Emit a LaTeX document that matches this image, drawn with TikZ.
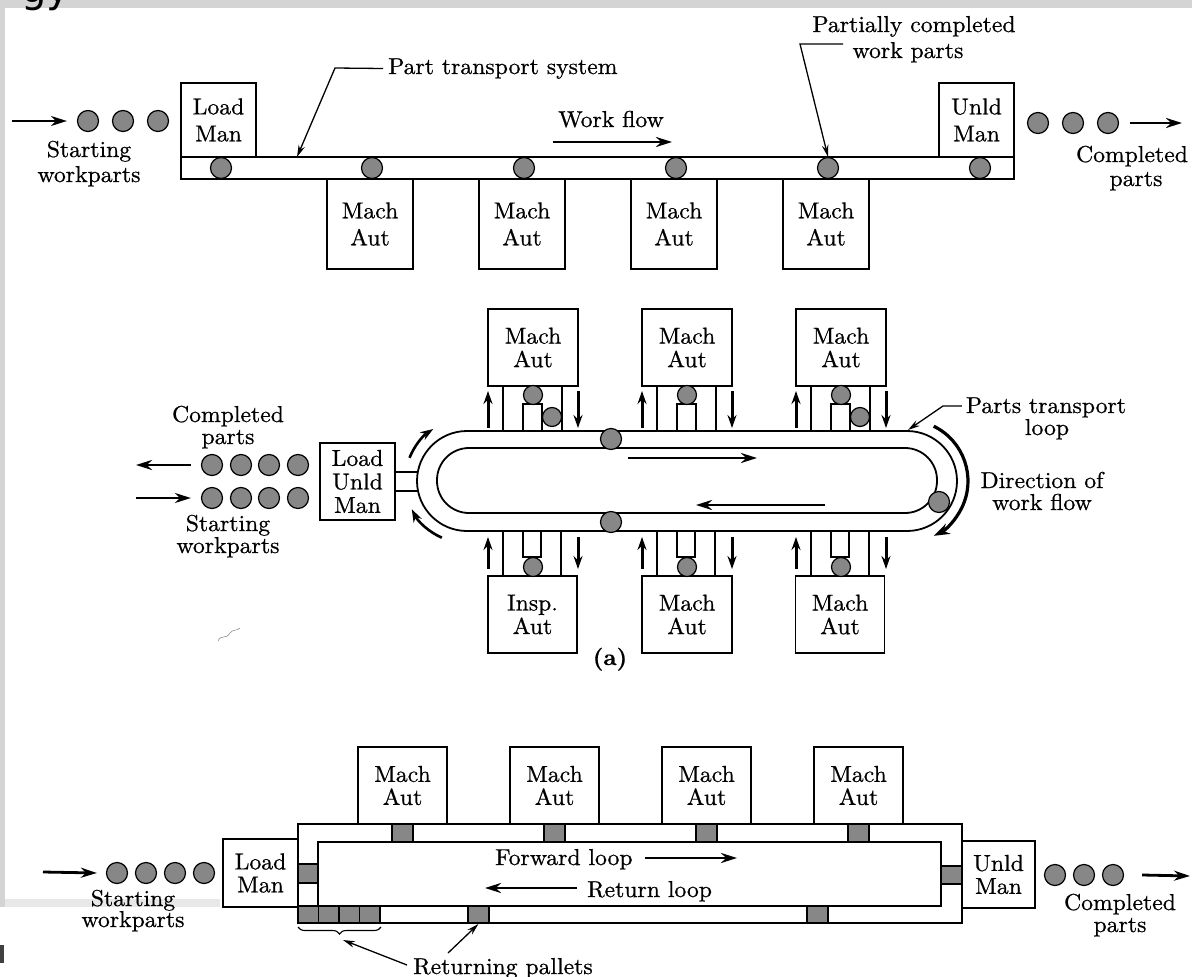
\documentclass[tikz,border=0pt]{standalone}
\usepackage{fontspec}
\setmainfont{lmroman10-regular.otf}[FakeStretch=1.03, FakeBold=0.7, BoldFont=lmroman10-bold.otf]
\newfontfamily\gyfont{DejaVu Sans}
\usetikzlibrary{arrows.meta,decorations.pathreplacing}
\definecolor{framegray}{RGB}{212,212,212}
\definecolor{partgray}{RGB}{135,135,135}
\begin{document}
\begin{tikzpicture}[x=1pt,y=-1pt,
  txt/.style={font=\fontsize{23}{27}\selectfont, inner sep=0pt},
  boxA/.style={draw, line width=1.8pt, align=center, inner sep=0pt, font=\fontsize{23}{27}\selectfont},
  boxB/.style={boxA, font=\fontsize{23}{23.5}\selectfont},
  boxC/.style={boxA, font=\fontsize{23}{23}\selectfont},
  part/.style={circle, draw, line width=1.2pt, fill=partgray, minimum size=21pt, inner sep=0pt},
  spart/.style={part, minimum size=19pt},
  pallet/.style={draw, line width=1.8pt, fill=partgray, inner sep=0pt},
  rail/.style={draw, line width=1.8pt, inner sep=0pt},
  flow/.style={line width=2.8pt, -{Stealth[length=16pt,width=10pt]}},
  updown/.style={line width=3pt, -{Stealth[length=13pt,width=9pt]}},
  lead/.style={line width=1.3pt, -{Stealth[length=12pt,width=6.5pt]}},
  conn/.style={line width=1.6pt}
]
\useasboundingbox (0,0) rectangle (1192,977);
\fill[white] (0,0) rectangle (1192,977);
% screenshot frame
\fill[framegray] (0,0) rectangle (1192,8);
\fill[framegray] (0,8) rectangle (5,907);
\fill[gray!18] (5,899) rectangle (220,907);
\fill[black!75] (0,945) rectangle (4,963);
\node[font=\gyfont\fontsize{40}{40}\selectfont, anchor=base west, inner sep=0pt] (gy) at (21,2.5) {gy};

% ================= TOP PANEL =================
\foreach \i/\x in {1/370,2/522,3/674,4/826}
  \node[boxA, minimum width=86pt, minimum height=90pt] (ma\i) at (\x,224) {Mach\\Aut};
\node[boxA, minimum width=75pt, minimum height=74pt] (lm1) at (218.5,120) {Load\\Man};
\node[boxA, minimum width=75pt, minimum height=74pt] (um1) at (976.5,120) {Unld\\Man};
\node[rail, minimum width=833pt, minimum height=22pt] (rl1) at (597.5,168) {};
\foreach \i/\x in {1/221,2/372,3/524,4/676,5/828,6/980}
  \node[part] (rp\i) at (\x,168) {};
% incoming parts
\foreach \i/\x in {1/88,2/123,3/158}
  \node[part] (sp\i) at (\x,121) {};
\coordinate (in1) at (12,121);
\draw[flow] (in1) -- ([xshift=-10pt]sp1.west);
\node[txt,anchor=base] (st1a) at (89,157) {Starting};
\node[txt,anchor=base] (st1b) at (89,182) {workparts};
% outgoing parts
\foreach \i/\x in {1/1038,2/1073,3/1108}
  \node[part] (cp\i) at (\x,123) {};
\coordinate (out1) at (1182,123);
\draw[flow] ([xshift=11pt]cp3.east) -- (out1);
\node[txt,anchor=base] (co1a) at (1132,162) {Completed};
\node[txt,anchor=base] (co1b) at (1136,186) {parts};
% labels
\node[txt,anchor=base west] (pts) at (388,74) {Part transport system};
\coordinate (ptsk) at (335,68);
\coordinate (ptst) at (297,157);
\draw[lead] ([xshift=-5pt]pts.west) -- (ptsk) -- (ptst);
\node[txt,anchor=base] (wf) at (611,127) {Work flow};
\coordinate (wfa) at (553,142);
\coordinate (wfb) at (672,142);
\draw[flow] (wfa) -- (wfb);
\node[txt,anchor=base] (pc1) at (914,32) {Partially completed};
\node[txt,anchor=base] (pc2) at (908,58) {work parts};
\coordinate (pcs) at (843,44);
\coordinate (pck) at (800,44);
\draw[lead] (pcs) -- (pck) -- (rp5.north);

% ================= MIDDLE PANEL (a) =================
\foreach \i/\x in {1/533,2/687,3/841}
  \node[boxB, minimum width=90pt, minimum height=77pt] (mt\i) at (\x,347.5) {Mach\\Aut};
\node[boxB, minimum width=89pt, minimum height=77pt] (ib1) at (532.5,614.5) {Insp.\\Aut};
\node[boxB, minimum width=90pt, minimum height=77pt] (mb2) at (687,614.5) {Mach\\Aut};
\node[boxB, minimum width=89pt, minimum height=77pt] (mb3) at (840,614.5) {Mach\\Aut};
% loop
\draw[line width=1.8pt, rounded corners=50pt] (417,431) rectangle (957,531);
\draw[line width=1.8pt, rounded corners=32pt] (437,448) rectangle (937,513);
% stations
\foreach \x in {533,687,841} {
  \draw[conn] (\x-30,386) -- (\x-30,431);
  \draw[conn] (\x+29,386) -- (\x+29,431);
  \draw[conn, fill=white] (\x-10,404) rectangle (\x+9,431);
  \node[spart] at (\x,395) {};
  \draw[updown] (\x-45,428) -- (\x-45,391);
  \draw[updown] (\x+45,391) -- (\x+45,428);
  \draw[conn] (\x-30,531) -- (\x-30,576);
  \draw[conn] (\x+28,531) -- (\x+28,576);
  \draw[conn, fill=white] (\x-10,531) rectangle (\x+8,557);
  \node[spart] at (\x,567) {};
  \draw[updown] (\x-45,569) -- (\x-45,537);
  \draw[updown] (\x+45,537) -- (\x+45,569);
}
\node[spart] (ex1) at (552,417) {};
\node[spart] (ex3) at (860,417) {};
% parts on loop
\node[part] (lp1) at (611,439) {};
\node[part] (lp2) at (611,522) {};
\node[part] (lp3) at (939,502) {};
% inner flow arrows
\coordinate (ira) at (628,458);
\coordinate (irb) at (757,458);
\draw[flow] (ira) -- (irb);
\coordinate (ila) at (825,505);
\coordinate (ilb) at (696,505);
\draw[flow] (ila) -- (ilb);
% curved arrows
\draw[line width=2.6pt, -{Stealth[length=13pt,width=9pt]}] (409.5,457.8) arc[start angle=-158, end angle=-123, radius=62];
\draw[line width=2.6pt, -{Stealth[length=13pt,width=9pt]}] (441.8,537.7) arc[start angle=-246, end angle=-207, radius=62];
\draw[line width=3.2pt, -{Stealth[length=16pt,width=11pt]}] (933.7,426.2) arc[start angle=-64, end angle=64, radius=61];
% load/unload station
\node[boxB, minimum width=75pt, minimum height=77pt] (lu) at (357.5,481.5) {Load\\Unld\\Man};
\draw[conn] (lu.east |- 0,472) -- (418,472);
\draw[conn] (lu.east |- 0,491) -- (418,491);
\foreach \i/\x in {1/212,2/241,3/269,4/298} {
  \node[part] (oc\i) at (\x,465) {};
  \node[part] (ic\i) at (\x,498) {};
}
\coordinate (outa) at (136,465);
\draw[flow] ([xshift=-10pt]oc1.west) -- (outa);
\coordinate (ina) at (136,498);
\draw[flow] (ina) -- ([xshift=-10pt]ic1.west);
\node[txt,anchor=base] (co2a) at (228,422) {Completed};
\node[txt,anchor=base] (co2b) at (228,444) {parts};
\node[txt,anchor=base] (st2a) at (228,531) {Starting};
\node[txt,anchor=base] (st2b) at (228,553) {workparts};
% labels right
\node[txt,anchor=base] (pl1) at (1046,413) {Parts transport};
\node[txt,anchor=base] (pl2) at (1047,435) {loop};
\coordinate (plk) at (943,406);
\coordinate (plt) at (908,430);
\draw[lead] ([xshift=-4pt]pl1.west |- 0,406) -- (plk) -- (plt);
\node[txt,anchor=base] (dw1) at (1042,488) {Direction of};
\node[txt,anchor=base] (dw2) at (1042,510) {work flow};
\node[txt,anchor=base] (cap) at (610,665) {\bfseries (a)};
\draw[gray, line width=0.5pt] (218,641) .. controls (221,634) and (226,640) .. (230,633) .. controls (233,629) and (237,631) .. (240,628);

% ================= BOTTOM PANEL =================
\foreach \i/\x in {1/402.5,2/554.5,3/706.5,4/858.5}
  \node[boxC, minimum width=89pt, minimum height=77pt] (mw\i) at (\x,785.5) {Mach\\Aut};
\draw[line width=1.8pt] (298,824) rectangle (962,923);
\draw[line width=1.8pt] (318,842) rectangle (941,906);
\node[boxC, minimum width=75pt, minimum height=68pt] (lm3) at (260.5,873) {Load\\Man};
\node[boxC, minimum width=73pt, minimum height=67pt] (um3) at (998.5,874.5) {Unld\\Man};
% pallets
\foreach \x in {402.5,554.5,706.5,858.5}
  \node[pallet, minimum width=21pt, minimum height=18pt] at (\x,833) {};
\node[pallet, minimum width=20pt, minimum height=19pt] (plL) at (308,873.5) {};
\node[pallet, minimum width=21pt, minimum height=18pt] (plR) at (951.5,875) {};
\foreach \i/\x in {1/308.2,2/328.7,3/349.2,4/369.7}
  \node[pallet, minimum width=20.5pt, minimum height=17pt] (rt\i) at (\x,914.5) {};
\node[pallet, minimum width=21pt, minimum height=17pt] (rt5) at (478.5,914.5) {};
\node[pallet, minimum width=21pt, minimum height=17pt] (rt6) at (817.5,914.5) {};
% brace and returning pallets
\draw[decorate, decoration={brace, mirror, amplitude=7pt}, line width=1.1pt] (298,927) -- (381,927);
\coordinate (brt) at (343,940);
\node[txt,anchor=base] (rpl) at (503,974) {Returning pallets};
\draw[lead] (407,965) -- (brt);
\draw[lead] (448,953) -- (rt5.south);
% flow texts
\node[txt,anchor=base west] (fwd) at (495,865) {Forward loop};
\coordinate (fwa) at (645,858);
\coordinate (fwb) at (737,858);
\draw[flow] (fwa) -- (fwb);
\node[txt,anchor=base west] (ret) at (587,897) {Return loop};
\coordinate (rea) at (577,888);
\coordinate (reb) at (485,888);
\draw[flow] (rea) -- (reb);
% incoming
\foreach \i/\x in {1/117,2/146,3/175,4/204}
  \node[part] (bs\i) at (\x,873) {};
\coordinate (bin) at (43,872);
\draw[flow] (bin) -- ([xshift=-9pt]bs1.west);
\node[txt,anchor=base] (st3a) at (133,906) {Starting};
\node[txt,anchor=base] (st3b) at (133,927) {workparts};
% outgoing
\foreach \i/\x in {1/1055,2/1084,3/1113}
  \node[part] (bc\i) at (\x,875) {};
\coordinate (bout) at (1190,876);
\draw[flow] ([xshift=18pt]bc3.east) -- (bout);
\node[txt,anchor=base] (co3a) at (1120,910) {Completed};
\node[txt,anchor=base] (co3b) at (1120,932) {parts};
\end{tikzpicture}
\end{document}
